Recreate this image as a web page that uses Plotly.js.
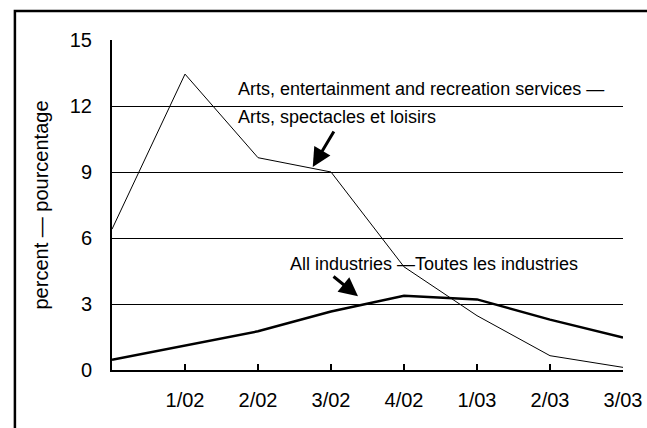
<!DOCTYPE html>
<html>
<head>
<meta charset="utf-8">
<script src="https://cdn.plot.ly/plotly-3.0.1.min.js"></script>
<style>html,body{margin:0;padding:0;background:#fff;}#chart{width:647px;height:428px;}</style>
</head>
<body>
<div id="chart"></div>
<script>
// Quarter labels (first quarter is unlabeled in the original)
const quarters = ["", "1/02", "2/02", "3/02", "4/02", "1/03", "2/03", "3/03"];
// Percent values
const artsValues = [6.4, 13.45, 9.65, 9.0, 4.69, 2.47, 0.65, 0.12];
const allIndustriesValues = [0.47, 1.11, 1.76, 2.66, 3.37, 3.21, 2.29, 1.48];
const yTicks = [0, 3, 6, 9, 12, 15];

const xIdx = quarters.map((q, i) => i);
const font = "Liberation Sans, Arial, sans-serif";

const traces = [
  {x: xIdx, y: artsValues, type: "scatter", mode: "lines",
   line: {color: "#000", width: 1}, hoverinfo: "skip"},
  {x: xIdx, y: allIndustriesValues, type: "scatter", mode: "lines",
   line: {color: "#000", width: 2.5}, hoverinfo: "skip"}
];

const layout = {
  width: 647, height: 428,
  margin: {l: 112, r: 24, t: 40, b: 58, pad: 0},
  paper_bgcolor: "#fff", plot_bgcolor: "#fff",
  showlegend: false,
  font: {family: font, color: "#000"},
  xaxis: {
    range: [0, 7], tickvals: xIdx, ticktext: quarters,
    showgrid: false, zeroline: false,
    showline: true, linecolor: "#000", linewidth: 2,
    ticks: "inside", ticklen: 6, tickwidth: 2, tickcolor: "#000",
    tickfont: {size: 20, family: font, color: "#000"},
    ticklabelstandoff: 11, fixedrange: true
  },
  yaxis: {
    range: [0, 15], tickvals: yTicks,
    showgrid: true, gridcolor: "#000", gridwidth: 1,
    zeroline: false, showline: true, linecolor: "#000", linewidth: 2,
    ticks: "", tickfont: {size: 20, family: font, color: "#000"},
    ticklabelstandoff: 14,
    title: {text: "percent — pourcentage", font: {size: 20, family: font, color: "#000"}, standoff: 16},
    fixedrange: true
  },
  shapes: [
    {type: "path", xref: "paper", yref: "paper",
     path: "M -0.19 -0.3 L -0.19 1.088 L 1.2 1.088",
     line: {color: "#000", width: 2.5}}
  ],
  annotations: [
    {x: 1.70, y: 12.79, xref: "x", yref: "y", xanchor: "left", yanchor: "middle",
     text: "Arts, entertainment and recreation services —", showarrow: false,
     font: {size: 18, family: font, color: "#000"}},
    {x: 1.70, y: 11.51, xref: "x", yref: "y", xanchor: "left", yanchor: "middle",
     text: "Arts, spectacles et loisirs", showarrow: false,
     font: {size: 18, family: font, color: "#000"}},
    {x: 2.41, y: 4.81, xref: "x", yref: "y", xanchor: "left", yanchor: "middle",
     text: "All industries —Toutes les industries", showarrow: false,
     font: {size: 18, family: font, color: "#000"}},
    {x: 2.75, y: 9.23, xref: "x", yref: "y", text: "", showarrow: true,
     ax: 22, ay: -37, arrowhead: 2, arrowsize: 1.25, arrowwidth: 3, arrowcolor: "#000"},
    {x: 3.37, y: 3.35, xref: "x", yref: "y", text: "", showarrow: true,
     ax: -26, ay: -21, arrowhead: 2, arrowsize: 1.25, arrowwidth: 3, arrowcolor: "#000"}
  ]
};

Plotly.newPlot("chart", traces, layout, {displayModeBar: false, staticPlot: true});
</script>
</body>
</html>
